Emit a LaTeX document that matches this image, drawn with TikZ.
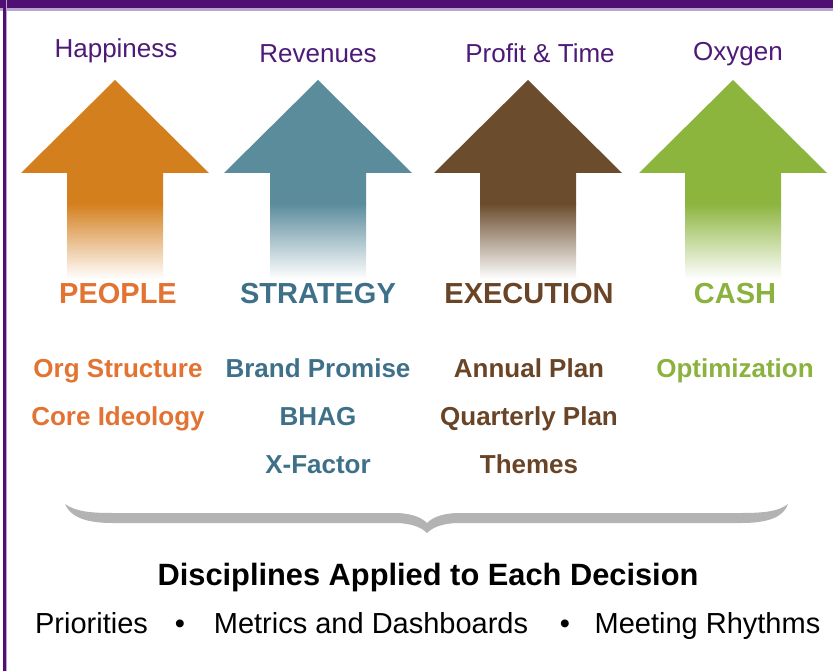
\documentclass[tikz,border=0pt]{standalone}
\usepackage{fontspec}
\setmainfont{Liberation Sans}
\definecolor{purp}{HTML}{4F0F73}
\definecolor{purplight}{HTML}{BBA5CF}
\definecolor{ptext}{HTML}{4E1A78}
\definecolor{orA}{HTML}{D47F1E}
\definecolor{orT}{HTML}{E27332}
\definecolor{teA}{HTML}{5B8C9C}
\definecolor{teT}{HTML}{3E7189}
\definecolor{brA}{HTML}{6B4C2C}
\definecolor{brT}{HTML}{6A4426}
\definecolor{grA}{HTML}{8CB53E}
\definecolor{grT}{HTML}{8BB23E}
\definecolor{bracegray}{HTML}{B3B3B3}
\newcommand\uparrowshape[2]{%
  \fill[#2] (#1,80) -- (#1+94,173) -- (#1+48,173) -- (#1+48,204) -- (#1-48,204) -- (#1-48,173) -- (#1-94,173) -- cycle;
  \shade[top color=#2, bottom color=white] (#1-48,203.5) rectangle (#1+48,279);
}
\tikzset{
  toplabel/.style={text=ptext, font=\fontsize{26}{30}\selectfont, inner sep=0pt, anchor=base},
  catlabel/.style={font=\bfseries\fontsize{29}{34}\selectfont, inner sep=0pt, anchor=base},
  sublabel/.style={font=\bfseries\fontsize{26}{30}\selectfont, inner sep=0pt, anchor=base},
  bottomtitle/.style={font=\bfseries\fontsize{30.8}{34}\selectfont, inner sep=0pt, anchor=base},
  bottomitem/.style={font=\fontsize{29}{34}\selectfont, inner sep=0pt, anchor=base},
}
\begin{document}
\begin{tikzpicture}[x=1pt,y=-1pt]
\useasboundingbox (0,0) rectangle (833,671);
\fill[white] (0,0) rectangle (833,671);
% border
\fill[purplight] (0,7) rectangle (833,11);
\fill[purp] (0,0) rectangle (833,8);
\fill[purplight] (5,0) rectangle (7,671);
\fill[purp] (2.5,0) rectangle (5.5,671);
% arrows
\uparrowshape{115}{orA}
\uparrowshape{318}{teA}
\uparrowshape{528}{brA}
\uparrowshape{733}{grA}
% top labels
\node[toplabel] (happy) at (116,58) {Happiness};
\node[toplabel] (rev) at (318,63) {Revenues};
\node[toplabel] (prof) at (540,63) {Profit \& Time};
\node[toplabel] (oxy) at (738,61) {Oxygen};
% categories
\node[catlabel, text=orT] (people) at (118,304) {PEOPLE};
\node[catlabel, text=teT] (strat) at (318,304) {STRATEGY};
\node[catlabel, text=brT] (exec) at (529,304) {EXECUTION};
\node[catlabel, text=grT] (cash) at (735,304) {CASH};
% sub items
\node[sublabel, text=orT] (org) at (118,377) {Org Structure};
\node[sublabel, text=orT] (core) at (118,425) {Core Ideology};
\node[sublabel, text=teT] (brand) at (318,377) {Brand Promise};
\node[sublabel, text=teT] (bhag) at (318,425) {BHAG};
\node[sublabel, text=teT] (xf) at (318,473) {X-Factor};
\node[sublabel, text=brT] (annual) at (529,377) {Annual Plan};
\node[sublabel, text=brT] (quart) at (529,425) {Quarterly Plan};
\node[sublabel, text=brT] (themes) at (529,473) {Themes};
\node[sublabel, text=grT] (optim) at (735,377) {Optimization};
% brace
\fill[bracegray] (65,504)
  .. controls (75,511) and (88,513) .. (112,513) -- (398,513)
  .. controls (414,514) and (422,518) .. (427,523)
  .. controls (432,518) and (440,514) .. (456,513) -- (742,513)
  .. controls (766,513) and (779,511) .. (788,504)
  .. controls (784,516) and (770,523) .. (742,523) -- (456,523)
  .. controls (440,524) and (432,528) .. (427,533)
  .. controls (422,528) and (414,524) .. (398,523) -- (112,523)
  .. controls (84,523) and (70,516) .. (65,504) -- cycle;
% bottom text
\node[bottomtitle] (disc) at (428,585) {Disciplines Applied to Each Decision};
\node[bottomitem] (prio) at (91.5,633) {Priorities};
\node[bottomitem] (b1) at (180,633) {•};
\node[bottomitem] (metr) at (371,633) {Metrics and Dashboards};
\node[bottomitem] (b2) at (565,633) {•};
\node[bottomitem] (meet) at (707.5,633) {Meeting Rhythms};
\end{tikzpicture}
\end{document}
